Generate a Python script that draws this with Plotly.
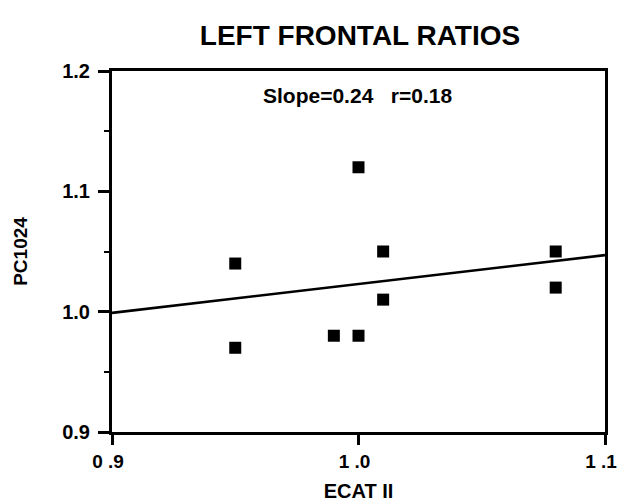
import plotly.graph_objects as go

# Data
ecat = [0.95, 0.95, 0.99, 1.00, 1.00, 1.01, 1.01, 1.08, 1.08]
pc1024 = [1.04, 0.97, 0.98, 0.98, 1.12, 1.05, 1.01, 1.05, 1.02]
fit_x = [0.9, 1.1]
fit_y = [0.999, 1.047]
x_ticks = [0.9, 1.0, 1.1]
x_tick_text = ["0 .9", "1 .0", "1 .1"]
y_ticks = [0.9, 1.0, 1.1, 1.2]
y_tick_text = ["0.9", "1.0", "1.1", "1.2"]

FONT = "Liberation Sans, Arial, sans-serif"

fig = go.Figure()
fig.add_trace(go.Scatter(x=fit_x, y=fit_y, mode="lines", cliponaxis=False,
                         line=dict(color="black", width=2.6), showlegend=False))
fig.add_trace(go.Scatter(x=ecat, y=pc1024, mode="markers",
                         marker=dict(symbol="square", size=12, color="black"),
                         showlegend=False))

fig.update_layout(
    width=618, height=504,
    paper_bgcolor="white", plot_bgcolor="white",
    margin=dict(l=112, r=13, t=71, b=72, autoexpand=False),
    font=dict(family=FONT, color="black"),
    title=dict(text="<b>LEFT FRONTAL RATIOS</b>", x=360 / 618, xanchor="center",
               y=1 - 35 / 504, yanchor="middle", font=dict(size=28, family=FONT)),
    annotations=[dict(text="<b>Slope=0.24   r=0.18</b>", xref="paper", yref="paper",
                      x=(357 - 112) / (605 - 112), y=1 - (95 - 71) / (432 - 71),
                      xanchor="center", yanchor="middle", showarrow=False,
                      font=dict(size=21, family=FONT))],
)

fig.update_xaxes(
    range=[0.9, 1.1000001], tickvals=x_ticks, ticktext=x_tick_text,
    ticks="outside", ticklen=10, tickwidth=2.5, tickcolor="black",
    showline=True, linewidth=3, linecolor="black", mirror=True,
    showgrid=False, zeroline=False, automargin=False, ticklabeloverflow="allow",
    ticklabelshift=-4,
    tickfont=dict(size=19, family=FONT, weight="bold"),
    title=dict(text="<b>ECAT II</b>", font=dict(size=20, family=FONT), standoff=14),
)
fig.update_yaxes(
    range=[0.9, 1.2000001], tickvals=y_ticks, ticktext=y_tick_text,
    ticks="outside", ticklen=11, tickwidth=2.5, tickcolor="black",
    minor=dict(dtick=0.05, tick0=0.9, ticks="outside", ticklen=5, tickwidth=2, tickcolor="black"),
    showline=True, linewidth=3, linecolor="black", mirror=True,
    showgrid=False, zeroline=False, ticklabelstandoff=4, automargin=False,
    ticklabeloverflow="allow",
    tickfont=dict(size=20, family=FONT, weight="bold"),
    title=dict(text="<b>PC1024</b>", font=dict(size=19, family=FONT), standoff=30),
)

fig.write_html("out.html", config={"displayModeBar": False},
               post_script="document.body.style.margin='0';")
